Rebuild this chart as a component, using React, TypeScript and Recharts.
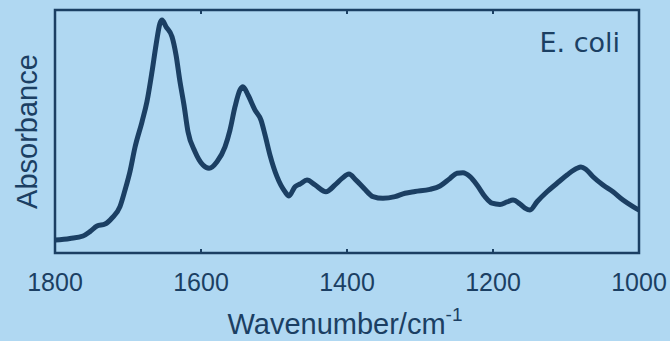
import { LineChart, Line, XAxis, YAxis, ReferenceArea } from 'recharts';

// FTIR spectrum
const wavenumbers = [
  1800, 1779.5, 1761.6, 1752.1, 1742.5, 1731.5, 1721.9, 1711, 1704.1, 1697.3,
  1690.4, 1680.8, 1674, 1667.1, 1661.6, 1656.2, 1653.4, 1647.9, 1639.7, 1634.2,
  1628.8, 1623.3, 1617.8, 1608.2, 1597.3, 1589, 1578.1, 1567.1, 1560.3, 1553.4,
  1546.6, 1542.5, 1535.6, 1526, 1517.8, 1512.3, 1505.5, 1495.9, 1484.9, 1479.5,
  1471.2, 1464.4, 1454.8, 1443.8, 1428.8, 1416.4, 1406.8, 1397.3, 1387.7, 1376.7,
  1364.4, 1350.7, 1334.2, 1320.5, 1306.8, 1286.3, 1272.6, 1258.9, 1249.3, 1241.1,
  1231.5, 1221.9, 1211, 1201.4, 1190.4, 1180.8, 1172.6, 1163, 1156.2, 1149.3,
  1139.7, 1126, 1112.3, 1098.6, 1084.9, 1079.5, 1072.6, 1063, 1049.3, 1035.6,
  1021.9, 1008.2, 1000,
];
const absorbance = [
  0.053, 0.06, 0.07, 0.088, 0.111, 0.119, 0.144, 0.191, 0.259, 0.335,
  0.435, 0.54, 0.623, 0.746, 0.856, 0.945, 0.959, 0.931, 0.89, 0.815,
  0.705, 0.609, 0.499, 0.417, 0.362, 0.349, 0.376, 0.437, 0.506, 0.602,
  0.671, 0.684, 0.65, 0.588, 0.547, 0.486, 0.403, 0.314, 0.252, 0.235,
  0.273, 0.284, 0.3, 0.28, 0.252, 0.28, 0.307, 0.325, 0.3, 0.266,
  0.232, 0.225, 0.232, 0.246, 0.253, 0.262, 0.276, 0.307, 0.328, 0.33,
  0.314, 0.28, 0.232, 0.205, 0.2, 0.21, 0.218, 0.202, 0.185, 0.177,
  0.211, 0.252, 0.287, 0.321, 0.349, 0.354, 0.344, 0.314, 0.28, 0.252,
  0.218, 0.191, 0.177,
];
const xTicks = [1800, 1600, 1400, 1200, 1000];
const sampleName = 'E. coli';

const data = wavenumbers.map((w, i) => ({ w, a: absorbance[i] }));

const BG = '#b0d8f2';
const INK = '#1b3f63';
const SANS = "'Liberation Sans', Arial, sans-serif";

function BottomTick(props: any) {
  const { x, y, payload } = props;
  return (
    <g>
      <line x1={x} x2={x} y1={y} y2={y - 4} stroke={INK} strokeWidth={2} />
      <text x={x} y={y + 38} textAnchor="middle" fill={INK} fontSize={25} fontFamily={SANS}>
        {payload.value}
      </text>
    </g>
  );
}

function TopTick(props: any) {
  const { x, y } = props;
  return <line x1={x} x2={x} y1={y} y2={y + 4} stroke={INK} strokeWidth={2} />;
}

export default function App() {
  return (
    <div style={{ position: 'fixed', left: 0, top: 0, width: 670, height: 341, background: BG }}>
      <LineChart width={670} height={341} data={data} margin={{ top: 9, right: 31, bottom: 48, left: 54 }}>
        <XAxis
          dataKey="w"
          type="number"
          domain={[1000, 1800]}
          reversed
          ticks={xTicks}
          height={40}
          axisLine={false}
          tickLine={false}
          tickSize={0}
          tickMargin={0}
          tick={<BottomTick />}
          allowDataOverflow
          label={{
            content: (p: any) => {
              const vb = p.viewBox;
              return (
                <text x={vb.x + vb.width / 2 - 2} y={334} textAnchor="middle" fill={INK} fontSize={29} fontFamily={SANS}>
                  Wavenumber/cm
                  <tspan fontSize={19} dy={-13}>-1</tspan>
                </text>
              );
            },
          }}
        />
        <XAxis
          xAxisId="top"
          orientation="top"
          dataKey="w"
          type="number"
          domain={[1000, 1800]}
          reversed
          ticks={xTicks}
          height={1}
          axisLine={false}
          tickLine={false}
          tickSize={0}
          tickMargin={0}
          tick={<TopTick />}
        />
        <YAxis
          domain={[0, 1]}
          width={1}
          axisLine={false}
          tickLine={false}
          tick={false}
          label={{
            content: (p: any) => {
              const vb = p.viewBox;
              const cy = vb.y + vb.height / 2;
              return (
                <text x={37} y={cy} transform={`rotate(-90, 37, ${cy})`} textAnchor="middle" fill={INK} fontSize={29} fontFamily={SANS}>
                  Absorbance
                </text>
              );
            },
          }}
        />
        <ReferenceArea
          x1={1800}
          x2={1000}
          fill="none"
          stroke={INK}
          strokeWidth={2.5}
          ifOverflow="visible"
          label={{
            content: (p: any) => {
              const vb = p.viewBox;
              return (
                <text x={vb.x + vb.width - 19} y={vb.y + 42} textAnchor="end" fill={INK} fontSize={27} fontFamily="'DejaVu Sans', Verdana, sans-serif">
                  {sampleName}
                </text>
              );
            },
          }}
        />
        <Line
          type="monotone"
          dataKey="a"
          stroke={INK}
          strokeWidth={5}
          dot={false}
          activeDot={false}
          isAnimationActive={false}
        />
      </LineChart>
    </div>
  );
}
